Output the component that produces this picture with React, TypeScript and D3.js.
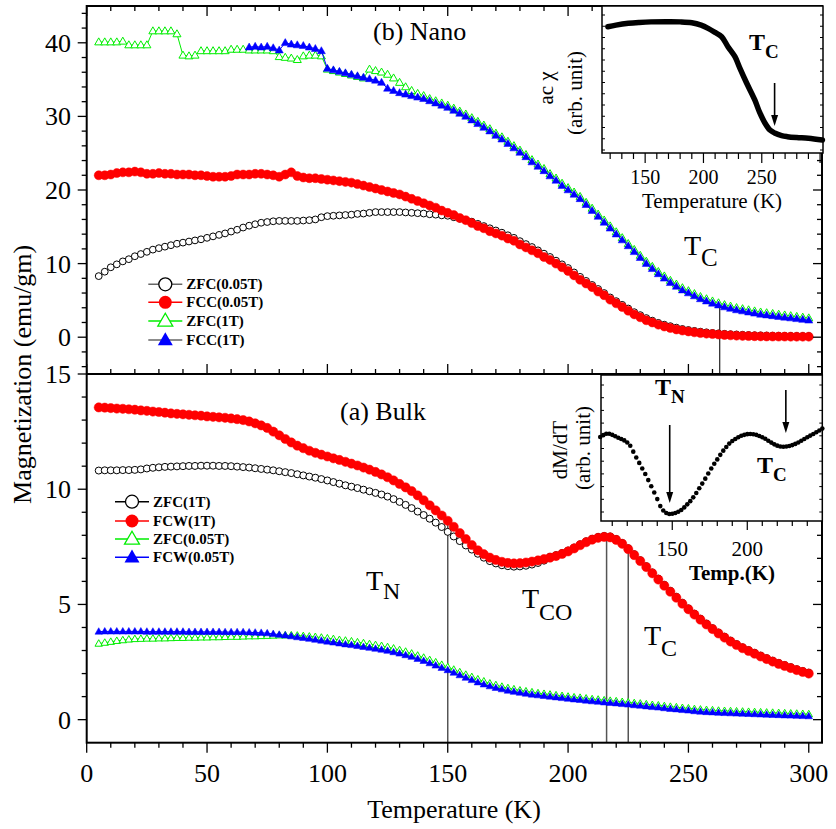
import React from 'react';
import * as d3 from 'd3';

const W = 836;
const H = 829;
const FONT = "'Liberation Serif','Times New Roman',Times,serif";

// Measurement temperatures (K)
const temps = [5,7.5,10,12.5,15,17.5,20,22.5,25,27.5,
  30,32.5,35,37.5,40,42.5,45,47.5,50,52.5,
  55,57.5,60,62.5,65,67.5,70,72.5,75,77.5,
  80,82.5,85,87.5,90,92.5,95,97.5,100,102.5,
  105,107.5,110,112.5,115,117.5,120,122.5,125,127.5,
  130,132.5,135,137.5,140,142.5,145,147.5,150,152.5,
  155,157.5,160,162.5,165,167.5,170,172.5,175,177.5,
  180,182.5,185,187.5,190,192.5,195,197.5,200,202.5,
  205,207.5,210,212.5,215,217.5,220,222.5,225,227.5,
  230,232.5,235,237.5,240,242.5,245,247.5,250,252.5,
  255,257.5,260,262.5,265,267.5,270,272.5,275,277.5,
  280,282.5,285,287.5,290,292.5,295,297.5,300];

// (b) Nano
const nanoZfc005 = [8.3,8.9,9.5,9.9,10.3,10.6,11.0,11.3,11.6,11.9,
  12.1,12.3,12.5,12.7,12.85,13.0,13.15,13.3,13.5,13.7,
  13.9,14.1,14.35,14.6,14.9,15.15,15.35,15.55,15.65,15.75,
  15.8,15.8,15.8,15.8,15.85,15.9,16.0,16.3,16.45,16.5,
  16.55,16.6,16.65,16.75,16.8,16.9,17.0,17.0,17.0,17.0,
  17.0,16.95,16.9,16.85,16.8,16.7,16.65,16.55,16.5,16.3,
  16.1,15.9,15.7,15.4,15.1,14.8,14.5,14.2,13.85,13.5,
  13.05,12.65,12.25,11.8,11.35,10.9,10.4,9.9,9.4,8.8,
  8.2,7.65,7.1,6.55,6.0,5.4,4.9,4.4,3.9,3.4,
  3.0,2.6,2.25,1.95,1.7,1.5,1.3,1.12,0.98,0.86,
  0.75,0.66,0.58,0.52,0.46,0.41,0.37,0.33,0.3,0.27,
  0.25,0.23,0.21,0.2,0.19,0.18,0.17,0.16,0.16];

const nanoFcc005 = [22.0,22.0,22.1,22.3,22.4,22.4,22.5,22.4,22.2,22.2,
  22.3,22.2,22.2,22.1,22.1,22.1,22.0,22.0,21.9,21.8,
  21.8,21.8,21.9,22.1,22.1,22.1,22.2,22.2,22.1,22.0,
  21.8,22.1,22.4,21.9,21.7,21.6,21.6,21.5,21.4,21.3,
  21.2,21.1,21.0,20.8,20.6,20.4,20.2,20.0,19.8,19.6,
  19.4,19.1,18.8,18.5,18.2,17.9,17.6,17.2,16.9,16.6,
  16.2,15.9,15.5,15.1,14.8,14.4,14.1,13.8,13.4,13.1,
  12.6,12.2,11.8,11.4,10.9,10.5,10.0,9.5,9.0,8.4,
  7.8,7.3,6.8,6.2,5.7,5.1,4.6,4.1,3.6,3.1,
  2.7,2.3,2.0,1.7,1.45,1.25,1.05,0.9,0.78,0.66,
  0.56,0.48,0.42,0.36,0.3,0.25,0.21,0.18,0.15,0.13,
  0.11,0.1,0.09,0.08,0.08,0.07,0.07,0.07,0.07];

const nanoZfc1 = [40.1,40.1,40.1,40.1,40.2,39.7,39.7,39.7,39.7,41.6,
  41.6,41.6,41.6,41.2,38.3,38.2,38.3,38.9,38.9,38.9,
  38.9,38.9,39.1,39.1,39.1,39.0,39.0,39.0,39.0,38.9,
  38.1,38.0,37.9,37.7,38.2,38.3,38.3,38.2,36.4,36.2,
  36.0,35.8,35.6,35.4,35.2,36.4,36.2,36.0,35.7,35.2,
  34.6,34.0,33.5,33.1,32.8,32.4,32.1,31.8,31.5,31.1,
  30.7,30.3,29.8,29.3,28.8,28.3,27.7,27.2,26.6,26.0,
  25.4,24.8,24.1,23.5,22.9,22.2,21.6,20.9,20.3,19.7,
  19.1,18.3,17.5,16.7,15.9,15.1,14.3,13.5,12.7,11.9,
  11.1,10.3,9.6,8.9,8.3,7.7,7.2,6.7,6.3,5.9,
  5.5,5.2,4.9,4.65,4.4,4.2,4.0,3.85,3.7,3.55,
  3.4,3.3,3.2,3.1,3.0,2.9,2.8,2.7,2.6];

// FCC(1T) measured from 67.5 K upward
const nanoFcc1Temps = temps.slice(25);
const nanoFcc1 = [39.4,39.5,39.4,39.5,39.3,
  39.0,40.0,39.8,39.7,39.6,39.4,39.2,38.9,36.5,36.3,
  36.1,35.9,35.7,35.5,35.3,35.1,34.9,34.6,33.8,33.5,
  33.2,33.0,32.8,32.6,32.4,32.1,31.8,31.5,31.2,30.8,
  30.4,30.0,29.5,29.0,28.5,28.0,27.4,26.9,26.3,25.7,
  25.1,24.5,23.8,23.2,22.6,21.9,21.3,20.6,20.0,19.4,
  18.8,18.0,17.2,16.4,15.6,14.8,14.0,13.2,12.4,11.6,
  10.8,10.0,9.3,8.6,8.0,7.4,6.9,6.4,6.0,5.6,
  5.2,4.9,4.6,4.35,4.1,3.9,3.7,3.55,3.4,3.25,
  3.1,3.0,2.9,2.8,2.7,2.6,2.5,2.4,2.3];

// (a) Bulk
const bulkZfc1 = [10.81,10.82,10.82,10.82,10.83,10.83,10.84,10.86,10.9,10.93,
  10.95,10.97,10.98,10.99,11.0,11.01,11.01,11.02,11.02,11.02,
  11.01,11.01,11.0,10.98,10.96,10.94,10.91,10.88,10.85,10.82,
  10.78,10.74,10.7,10.65,10.6,10.55,10.5,10.44,10.38,10.31,
  10.24,10.17,10.11,10.05,9.98,9.91,9.84,9.77,9.68,9.57,
  9.45,9.32,9.18,9.03,8.88,8.72,8.55,8.36,8.15,7.95,
  7.75,7.56,7.38,7.2,7.03,6.88,6.78,6.7,6.66,6.64,
  6.65,6.68,6.73,6.8,6.9,7.07,7.14,7.23,7.34,7.47,
  7.61,7.74,7.85,7.93,7.97,7.95,7.84,7.67,7.44,7.18,
  6.92,6.66,6.39,6.12,5.85,5.59,5.33,5.07,4.83,4.6,
  4.38,4.17,3.97,3.78,3.6,3.43,3.28,3.14,3.02,2.9,
  2.78,2.67,2.56,2.46,2.37,2.28,2.19,2.11,2.04];

const bulkFcw1 = [13.55,13.54,13.52,13.5,13.49,13.47,13.45,13.42,13.4,13.37,
  13.35,13.32,13.29,13.27,13.25,13.23,13.21,13.19,13.16,13.14,
  13.12,13.1,13.07,13.04,13.0,12.94,12.86,12.77,12.66,12.5,
  12.34,12.18,12.03,11.89,11.78,11.67,11.58,11.5,11.42,11.34,
  11.27,11.19,11.11,11.03,10.94,10.85,10.75,10.64,10.52,10.38,
  10.23,10.08,9.92,9.73,9.52,9.3,9.08,8.86,8.63,8.37,
  8.1,7.84,7.58,7.35,7.18,7.03,6.93,6.85,6.8,6.78,
  6.79,6.82,6.86,6.91,6.97,7.03,7.1,7.19,7.3,7.43,
  7.57,7.7,7.81,7.89,7.93,7.91,7.8,7.63,7.4,7.14,
  6.88,6.62,6.35,6.08,5.81,5.55,5.29,5.03,4.79,4.56,
  4.34,4.13,3.93,3.74,3.56,3.39,3.24,3.1,2.98,2.86,
  2.74,2.63,2.52,2.42,2.33,2.24,2.15,2.07,2.0];

const bulkZfc005 = [3.3,3.34,3.38,3.42,3.45,3.48,3.5,3.51,3.52,3.52,
  3.53,3.53,3.54,3.55,3.55,3.56,3.56,3.57,3.57,3.58,
  3.58,3.59,3.6,3.6,3.61,3.62,3.62,3.63,3.64,3.65,
  3.66,3.66,3.66,3.65,3.63,3.61,3.59,3.56,3.53,3.5,
  3.46,3.43,3.4,3.36,3.32,3.28,3.24,3.2,3.15,3.09,
  3.02,2.95,2.87,2.78,2.69,2.59,2.49,2.38,2.28,2.17,
  2.06,1.95,1.85,1.75,1.66,1.57,1.5,1.43,1.37,1.32,
  1.27,1.23,1.19,1.15,1.12,1.09,1.06,1.03,1.0,0.97,
  0.95,0.92,0.89,0.87,0.84,0.82,0.8,0.77,0.75,0.72,
  0.7,0.67,0.64,0.62,0.59,0.56,0.54,0.51,0.49,0.46,
  0.44,0.42,0.41,0.39,0.38,0.37,0.36,0.35,0.34,0.33,
  0.32,0.31,0.3,0.29,0.28,0.27,0.26,0.25,0.24];

const bulkFcw005 = [3.82,3.83,3.83,3.83,3.83,3.83,3.83,3.83,3.82,3.82,
  3.82,3.82,3.82,3.82,3.82,3.81,3.81,3.81,3.81,3.81,
  3.81,3.8,3.8,3.8,3.8,3.79,3.78,3.77,3.75,3.72,
  3.69,3.66,3.62,3.58,3.55,3.51,3.47,3.43,3.39,3.35,
  3.31,3.27,3.24,3.2,3.16,3.12,3.08,3.04,2.99,2.93,
  2.87,2.8,2.73,2.64,2.55,2.45,2.35,2.25,2.15,2.04,
  1.93,1.82,1.72,1.62,1.53,1.45,1.38,1.32,1.26,1.21,
  1.17,1.13,1.09,1.06,1.03,1.0,0.97,0.94,0.91,0.88,
  0.86,0.83,0.8,0.78,0.75,0.73,0.71,0.68,0.66,0.63,
  0.61,0.58,0.55,0.53,0.5,0.47,0.45,0.42,0.4,0.37,
  0.35,0.33,0.32,0.3,0.29,0.28,0.27,0.26,0.25,0.24,
  0.23,0.22,0.21,0.2,0.19,0.18,0.17,0.16,0.15];

// Inset (b): ac susceptibility
const acChiT = [118,125,135.6,145,155,170,180,190,198,204,210,215.6,221,227,231.3,237,244,248,252.7,257,261,267,272,280,290,302];
const acChiV = [8.59,8.7,8.82,8.88,8.92,8.93,8.92,8.86,8.7,8.48,8.2,7.91,7.23,6.55,5.76,4.76,3.61,2.8,2.04,1.56,1.36,1.18,1.11,1.05,1.0,0.88];

// Inset (a): dM/dT
const dmdtT = [102,104,106,108,110,112,114,116,118,120,122,124,126,128,130,132,134,136,138,140,
  142,144,146,148,150,152,154,156,158,160,162,164,166,168,170,172,174,176,178,180,
  182,184,186,188,190,192,194,196,198,200,202,204,206,208,210,212,214,216,218,220,
  222,224,226,228,230,232,234,236,238,240,242,244,246,248,250];
const dmdtV = [5.75,5.88,5.98,5.98,5.9,5.8,5.7,5.62,5.52,5.38,5.15,4.75,4.35,3.98,3.6,3.22,2.8,2.38,1.95,1.5,
  1.02,0.72,0.55,0.48,0.5,0.55,0.63,0.75,0.93,1.14,1.36,1.62,1.92,2.24,2.56,2.9,3.25,3.6,3.92,4.22,
  4.53,4.82,5.07,5.3,5.48,5.62,5.74,5.84,5.9,5.95,5.96,5.94,5.9,5.82,5.74,5.63,5.5,5.37,5.25,5.16,
  5.1,5.09,5.1,5.14,5.2,5.28,5.38,5.5,5.62,5.74,5.85,5.96,6.08,6.2,6.33];

const xTickLabels = [0, 50, 100, 150, 200, 250, 300];
const topYLabels = [0, 10, 20, 30, 40];
const botYLabels = [0, 5, 10, 15];
const nanoLegend = ['ZFC(0.05T)', 'FCC(0.05T)', 'ZFC(1T)', 'FCC(1T)'];
const bulkLegend = ['ZFC(1T)', 'FCW(1T)', 'ZFC(0.05T)', 'FCW(0.05T)'];
const markers = { tc: 263, tn: 150, tco: 216, tcBulk: 225 };

// geometry
const L = 86.7, R = 822, T0 = 6, MID = 374, B = 742.7;
const x = d3.scaleLinear().domain([0, 305.5]).range([L, R]);
const yTop = d3.scaleLinear().domain([-5, 45]).range([MID, T0]);
const yBot = d3.scaleLinear().domain([-1, 15]).range([B, MID]);

const RED = '#ff0000', GREEN = '#00ee00', BLUE = '#0000ff';

function tri(cx: number, cy: number, w: number, h: number) {
  return `M${cx},${cy - h * 0.6}L${cx + w / 2},${cy + h * 0.4}L${cx - w / 2},${cy + h * 0.4}Z`;
}

function linePath(ts: number[], vs: number[], ys: d3.ScaleLinear<number, number>) {
  return d3.line<[number, number]>().x(d => x(d[0])).y(d => ys(d[1]))(vs.map((v, i) => [ts[i], v] as [number, number])) || '';
}

type Kind = 'ocircle' | 'fcircle' | 'otri' | 'ftri';

function Series({ ts, vs, ys, kind, color, lineColor, size }: { ts: number[]; vs: number[]; ys: d3.ScaleLinear<number, number>; kind: Kind; color: string; lineColor: string; size: number }) {
  return (
    <g>
      <path d={linePath(ts, vs, ys)} fill="none" stroke={lineColor} strokeWidth={1} />
      {vs.map((v, i) => {
        const cx = x(ts[i]);
        const cy = ys(v);
        if (kind === 'ocircle') return <circle key={i} cx={cx} cy={cy} r={size} fill="white" stroke={color} strokeWidth={1} />;
        if (kind === 'fcircle') return <circle key={i} cx={cx} cy={cy} r={size} fill={color} stroke={color} strokeWidth={0.5} />;
        if (kind === 'otri') return <path key={i} d={tri(cx, cy, size * 1.15, size)} fill="white" stroke={color} strokeWidth={1} />;
        return <path key={i} d={tri(cx, cy, size * 1.15, size)} fill={color} stroke={color} strokeWidth={0.5} />;
      })}
    </g>
  );
}

function Arrow({ x0, y0, y1 }: { x0: number; y0: number; y1: number }) {
  return (
    <g>
      <line x1={x0} y1={y0} x2={x0} y2={y1 - 9} stroke="black" strokeWidth={1.6} />
      <path d={`M${x0 - 3.5},${y1 - 11}L${x0 + 3.5},${y1 - 11}L${x0},${y1}Z`} fill="black" />
    </g>
  );
}

function Sub({ xPos, y, main, sub, size, subSize, dy, bold }: { xPos: number; y: number; main: string; sub: string; size: number; subSize: number; dy: number; bold?: boolean }) {
  return (
    <text x={xPos} y={y} fontSize={size} fontFamily={FONT} fontWeight={bold ? 'bold' : 'normal'}>
      {main}
      <tspan fontSize={subSize} dy={dy}>{sub}</tspan>
    </text>
  );
}

function LegendRow({ lx, ly, kind, color, lineColor, label, r }: { lx: number; ly: number; kind: Kind; color: string; lineColor: string; label: string; r: number }) {
  const cx = lx + 17;
  let mark: React.ReactNode;
  if (kind === 'ocircle') mark = <circle cx={cx} cy={ly} r={r} fill="white" stroke={color} strokeWidth={1.3} />;
  else if (kind === 'fcircle') mark = <circle cx={cx} cy={ly} r={r} fill={color} />;
  else if (kind === 'otri') mark = <path d={tri(cx, ly, r * 2.3, r * 2)} fill="white" stroke={color} strokeWidth={1.3} />;
  else mark = <path d={tri(cx, ly, r * 2.3, r * 2)} fill={color} />;
  return (
    <g>
      <line x1={lx} x2={lx + 34} y1={ly} y2={ly} stroke={lineColor} strokeWidth={1.5} />
      {mark}
      <text x={lx + 38} y={ly + 5} fontSize={15} fontWeight="bold" fontFamily={FONT}>{label}</text>
    </g>
  );
}

export default function App() {
  const xTicks = d3.range(0, 301, 10);
  const topMinor = d3.range(-4, 45, 2);
  const botMinor = d3.range(0, 15, 1);

  // inset (b)
  const xi = d3.scaleLinear().domain([113, 302.5]).range([602, 823]);
  const yi = d3.scaleLinear().domain([0, 10]).range([153, 6]);
  const acPath = d3.line<number>().x((_, i) => xi(acChiT[i])).y(d => yi(d)).curve(d3.curveCatmullRom)(acChiV) || '';
  const xiTicks = d3.range(120, 301, 10);
  const yiTicks = d3.range(15, 153, 11.25);

  // inset (a)
  const xb = d3.scaleLinear().domain([102.5, 250]).range([601, 822.3]);
  const yb = d3.scaleLinear().domain([0, 10]).range([521, 375]);
  const xbTicks = d3.range(110, 251, 10);
  const ybTicks = d3.range(385, 521, 12.7);

  return (
    <svg width={W} height={H} style={{ position: 'absolute', left: 0, top: 0, background: 'white' }} fontFamily={FONT}>
      <rect x={0} y={0} width={W} height={H} fill="white" />

      {/* reference lines */}
      <line x1={x(markers.tc)} x2={x(markers.tc)} y1={yTop(4.65)} y2={MID} stroke="#222" strokeWidth={1.2} />
      <line x1={x(markers.tn)} x2={x(markers.tn)} y1={yBot(8.63)} y2={B} stroke="#555" strokeWidth={1.5} />
      <line x1={x(markers.tco)} x2={x(markers.tco)} y1={yBot(7.93)} y2={B} stroke="#555" strokeWidth={1.5} />
      <line x1={x(markers.tcBulk)} x2={x(markers.tcBulk)} y1={yBot(7.4)} y2={B} stroke="#555" strokeWidth={1.5} />

      {/* nano data */}
      <Series ts={temps} vs={nanoZfc005} ys={yTop} kind="ocircle" color="black" lineColor="#666" size={3.4} />
      <Series ts={temps} vs={nanoFcc005} ys={yTop} kind="fcircle" color={RED} lineColor={RED} size={4.5} />
      <Series ts={temps} vs={nanoZfc1} ys={yTop} kind="otri" color={GREEN} lineColor={GREEN} size={7} />
      <Series ts={nanoFcc1Temps} vs={nanoFcc1} ys={yTop} kind="ftri" color={BLUE} lineColor={BLUE} size={7} />

      {/* bulk data */}
      <Series ts={temps} vs={bulkZfc1} ys={yBot} kind="ocircle" color="black" lineColor="black" size={3.5} />
      <Series ts={temps} vs={bulkFcw1} ys={yBot} kind="fcircle" color={RED} lineColor={RED} size={4.6} />
      <Series ts={temps} vs={bulkZfc005} ys={yBot} kind="otri" color={GREEN} lineColor={GREEN} size={6.5} />
      <Series ts={temps} vs={bulkFcw005} ys={yBot} kind="ftri" color={BLUE} lineColor={BLUE} size={6.5} />

      {/* frame */}
      <rect x={L} y={T0} width={R - L} height={B - T0} fill="none" stroke="black" strokeWidth={2} />
      <line x1={L} x2={R} y1={MID} y2={MID} stroke="black" strokeWidth={2} />

      {/* x ticks */}
      {xTicks.map(t => {
        const major = t % 50 === 0;
        const len = major ? 10 : 5;
        return (
          <g key={'xt' + t}>
            <line x1={x(t)} x2={x(t)} y1={B} y2={B + len} stroke="black" strokeWidth={1.3} />
            <line x1={x(t)} x2={x(t)} y1={T0} y2={T0 + len} stroke="black" strokeWidth={1.3} />
            <line x1={x(t)} x2={x(t)} y1={MID} y2={MID - len} stroke="black" strokeWidth={1.3} />
          </g>
        );
      })}
      {xTickLabels.map(t => (
        <text key={'xl' + t} x={x(t)} y={782} fontSize={26} textAnchor="middle">{t}</text>
      ))}

      {/* y ticks */}
      {topMinor.map(v => {
        const len = v % 10 === 0 ? 9 : 5;
        return (
          <g key={'ty' + v}>
            <line x1={L - len} x2={L} y1={yTop(v)} y2={yTop(v)} stroke="black" strokeWidth={1.3} />
            <line x1={R - len} x2={R} y1={yTop(v)} y2={yTop(v)} stroke="black" strokeWidth={1.3} />
          </g>
        );
      })}
      {botMinor.map(v => {
        const len = v % 5 === 0 ? 9 : 5;
        return (
          <g key={'by' + v}>
            <line x1={L - len} x2={L} y1={yBot(v)} y2={yBot(v)} stroke="black" strokeWidth={1.3} />
            <line x1={R - len} x2={R} y1={yBot(v)} y2={yBot(v)} stroke="black" strokeWidth={1.3} />
          </g>
        );
      })}
      <line x1={L - 9} x2={L} y1={MID} y2={MID} stroke="black" strokeWidth={1.3} />
      {topYLabels.map(v => (
        <text key={'tyl' + v} x={71} y={yTop(v) + 9} fontSize={26} textAnchor="end">{v}</text>
      ))}
      {botYLabels.map(v => (
        <text key={'byl' + v} x={71} y={yBot(v) + 9} fontSize={26} textAnchor="end">{v}</text>
      ))}

      {/* axis titles */}
      <text x={454} y={818} fontSize={26} textAnchor="middle">Temperature (K)</text>
      <text transform={`translate(31,${(T0 + B) / 2}) rotate(-90)`} fontSize={26} textAnchor="middle">Magnetization (emu/gm)</text>

      {/* panel titles */}
      <text x={373} y={40} fontSize={26}>(b) Nano</text>
      <text x={340} y={420} fontSize={26}>(a) Bulk</text>

      {/* annotations */}
      <Sub xPos={684} y={255} main="T" sub="C" size={28} subSize={25} dy={11} />
      <Sub xPos={366} y={590} main="T" sub="N" size={28} subSize={24} dy={9} />
      <Sub xPos={522} y={608} main="T" sub="CO" size={28} subSize={24} dy={12} />
      <Sub xPos={644} y={645} main="T" sub="C" size={28} subSize={24} dy={11} />

      {/* legends */}
      {nanoLegend.map((lab, i) => {
        const kinds: Kind[] = ['ocircle', 'fcircle', 'otri', 'ftri'];
        const cols = ['black', RED, GREEN, BLUE];
        const lines = ['#666', RED, GREEN, '#666'];
        const ys = [284.3, 302.3, 321, 340];
        return <LegendRow key={lab} lx={148.3} ly={ys[i]} kind={kinds[i]} color={cols[i]} lineColor={lines[i]} label={lab} r={6.5} />;
      })}
      {bulkLegend.map((lab, i) => {
        const kinds: Kind[] = ['ocircle', 'fcircle', 'otri', 'ftri'];
        const cols = ['black', RED, GREEN, BLUE];
        const lines = ['black', RED, GREEN, BLUE];
        const ys = [501.7, 521, 539, 557.3];
        return <LegendRow key={lab} lx={115} ly={ys[i]} kind={kinds[i]} color={cols[i]} lineColor={lines[i]} label={lab} r={6.5} />;
      })}

      {/* inset (b) */}
      <rect x={602} y={T0} width={823 - 602} height={153 - T0} fill="white" stroke="black" strokeWidth={1.5} />
      <path d={acPath} fill="none" stroke="black" strokeWidth={5.5} strokeLinecap="round" />
      {xiTicks.map(t => {
        const major = t % 50 === 0;
        return <line key={'xi' + t} x1={xi(t)} x2={xi(t)} y1={153} y2={153 + (major ? 10 : 6)} stroke="black" strokeWidth={1.2} />;
      })}
      {yiTicks.map((yy, i) => (
        <g key={'yi' + i}>
          <line x1={602} x2={605} y1={yy} y2={yy} stroke="black" strokeWidth={1} />
          <line x1={820} x2={823} y1={yy} y2={yy} stroke="black" strokeWidth={1} />
        </g>
      ))}
      {[150, 200, 250].map(t => (
        <text key={'xil' + t} x={xi(t)} y={184} fontSize={20} textAnchor="middle">{t}</text>
      ))}
      <text x={712} y={208} fontSize={21} textAnchor="middle">Temperature (K)</text>
      <text transform="translate(553,88) rotate(-90)" fontSize={21} textAnchor="middle">ac χ</text>
      <text transform="translate(582,93) rotate(-90)" fontSize={21} textAnchor="middle">(arb. unit)</text>
      <Arrow x0={xi(261)} y0={83} y1={126} />
      <Sub xPos={749} y={50} main="T" sub="C" size={24} subSize={19} dy={8} bold />

      {/* inset (a) */}
      <rect x={601} y={375} width={822.3 - 601} height={521 - 375} fill="white" stroke="black" strokeWidth={1.5} />
      {dmdtV.map((v, i) => (
        <circle key={'dm' + i} cx={xb(dmdtT[i])} cy={yb(v)} r={2.3} fill="black" />
      ))}
      {xbTicks.map(t => {
        const major = t % 50 === 0;
        return <line key={'xb' + t} x1={xb(t)} x2={xb(t)} y1={521} y2={521 + (major ? 9 : 5)} stroke="black" strokeWidth={1.2} />;
      })}
      {ybTicks.map((yy, i) => (
        <g key={'yb' + i}>
          <line x1={601} x2={604} y1={yy} y2={yy} stroke="black" strokeWidth={1} />
          <line x1={819.3} x2={822.3} y1={yy} y2={yy} stroke="black" strokeWidth={1} />
        </g>
      ))}
      {[150, 200].map(t => (
        <text key={'xbl' + t} x={xb(t)} y={556} fontSize={21} textAnchor="middle">{t}</text>
      ))}
      <text x={732} y={580} fontSize={21} fontWeight="bold" textAnchor="middle">Temp.(K)</text>
      <text transform="translate(567,450) rotate(-90)" fontSize={21} textAnchor="middle">dM/dT</text>
      <text transform="translate(590,448) rotate(-90)" fontSize={21} textAnchor="middle">(arb. unit)</text>
      <Arrow x0={xb(148.3)} y0={425} y1={503} />
      <Arrow x0={xb(225.7)} y0={390} y1={433} />
      <Sub xPos={655} y={395} main="T" sub="N" size={24} subSize={19} dy={8} bold />
      <Sub xPos={757} y={473} main="T" sub="C" size={24} subSize={19} dy={8} bold />
    </svg>
  );
}
